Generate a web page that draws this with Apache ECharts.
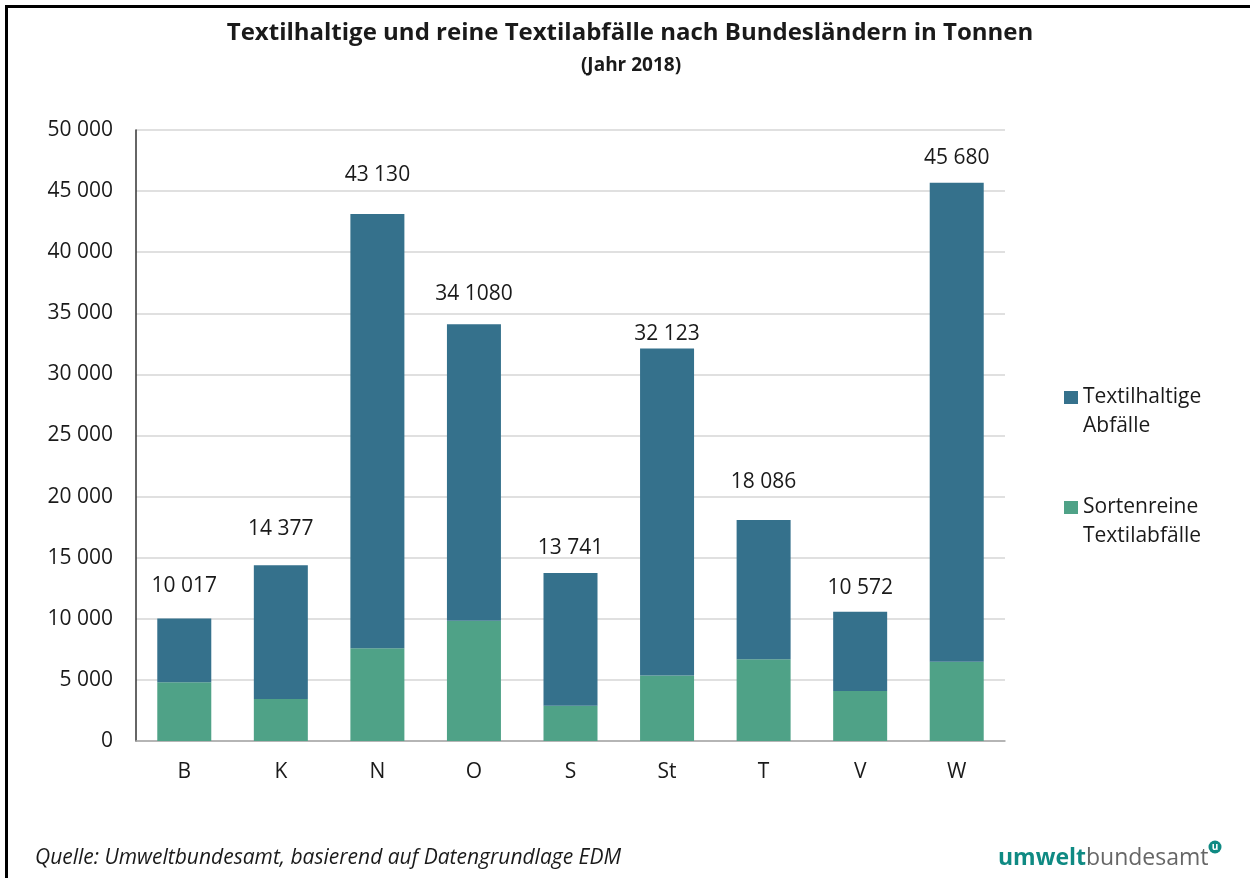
<!DOCTYPE html>
<html>
<head>
<meta charset="utf-8">
<script src="https://cdn.jsdelivr.net/npm/echarts@6/dist/echarts.min.js"></script>
<style>
html,body{margin:0;padding:0;background:#fff;}
#chart{width:1250px;height:878px;}
</style>
</head>
<body>
<div id="chart"></div>
<script>
const categories = ['B', 'K', 'N', 'O', 'S', 'St', 'T', 'V', 'W'];
const totals = [10017, 14377, 43130, 34108, 13741, 32123, 18086, 10572, 45680];
const sortenrein = [4810, 3440, 7600, 9840, 2890, 5350, 6700, 4100, 6480];
const totalLabels = ['10 017', '14 377', '43 130', '34 1080', '13 741', '32 123', '18 086', '10 572', '45 680'];
const textilhaltig = totals.map((t, i) => t - sortenrein[i]);
const seriesNames = ['Textilhaltige Abfälle', 'Sortenreine Textilabfälle'];
const legendLines = {
  'Textilhaltige Abfälle': ['Textilhaltige', 'Abfälle'],
  'Sortenreine Textilabfälle': ['Sortenreine', 'Textilabfälle']
};

// label placement (style only): gap in px between bar top and its total label
const labelDistances = [22, 26, 28, 20, 15, 4, 27, 13, 14];

const FONT = '"Open Sans", "Noto Sans", sans-serif';
const TXT = '#1a1a1a';
const FS = 21;
const chart = echarts.init(document.getElementById('chart'), null, {renderer: 'canvas'});
const fmt = v => String(v).replace(/\B(?=(\d{3})+(?!\d))/g, ' ');

chart.setOption({
  backgroundColor: '#ffffff',
  animation: false,
  textStyle: {fontFamily: FONT},
  grid: {left: 136, right: 245, top: 130, bottom: 137, containLabel: false},
  legend: {
    orient: 'vertical',
    left: 1064,
    top: 354,
    padding: 0,
    itemWidth: 14,
    itemHeight: 13,
    itemGap: 23,
    icon: 'rect',
    data: [seriesNames[0], seriesNames[1]],
    formatter: name => '{s| }\n{a|' + legendLines[name][0] + '}\n{a|' + legendLines[name][1] + '}',
    textStyle: {
      fontFamily: FONT, fontSize: FS, color: TXT,
      rich: {
        s: {fontSize: FS, lineHeight: 29, height: 29},
        a: {fontFamily: FONT, fontSize: FS, color: TXT, lineHeight: 29, height: 29}
      }
    }
  },
  xAxis: {
    type: 'category',
    data: categories,
    axisLine: {show: true, lineStyle: {color: '#a6a6a6', width: 1.5}},
    axisTick: {show: false},
    axisLabel: {fontFamily: FONT, fontSize: FS, color: TXT, margin: 21}
  },
  yAxis: {
    type: 'value',
    min: 0,
    max: 50000,
    interval: 5000,
    axisLine: {show: true, lineStyle: {color: '#333333', width: 1.5}},
    axisTick: {show: false},
    splitLine: {show: true, lineStyle: {color: '#d6d6d6', width: 1.5}},
    axisLabel: {fontFamily: FONT, fontSize: FS, color: TXT, margin: 23, formatter: fmt}
  },
  series: [
    {
      name: seriesNames[1],
      type: 'bar',
      stack: 'total',
      barWidth: 54,
      data: sortenrein,
      itemStyle: {color: '#4fa287'}
    },
    {
      name: seriesNames[0],
      type: 'bar',
      stack: 'total',
      barWidth: 54,
      data: textilhaltig.map((v, i) => ({value: v, label: {distance: labelDistances[i]}})),
      itemStyle: {color: '#35718c'},
      label: {
        show: true,
        position: 'top',
        distance: 28,
        fontFamily: FONT,
        fontSize: FS,
        color: TXT,
        formatter: p => totalLabels[p.dataIndex]
      }
    }
  ],
  graphic: [
    {type: 'rect', silent: true, shape: {x: 6.5, y: 6.5, width: 1400, height: 1000},
     style: {fill: null, stroke: '#000', lineWidth: 3}},
    {type: 'text', silent: true, x: 630, y: 33,
     style: {text: 'Textilhaltige und reine Textilabfälle nach Bundesländern in Tonnen',
       font: 'bold 24px ' + FONT, fill: TXT, align: 'center', verticalAlign: 'middle',
       textAlign: 'center', textVerticalAlign: 'middle'}},
    {type: 'text', silent: true, x: 631, y: 66,
     style: {text: '(Jahr 2018)', font: 'bold 19px ' + FONT, fill: TXT,
       align: 'center', verticalAlign: 'middle', textAlign: 'center', textVerticalAlign: 'middle'}},
    {type: 'text', silent: true, x: 35, y: 858,
     style: {text: 'Quelle: Umweltbundesamt, basierend auf Datengrundlage EDM',
       font: 'italic 21px ' + FONT, fill: TXT, align: 'left', verticalAlign: 'middle',
       textAlign: 'left', textVerticalAlign: 'middle'}},
    {type: 'text', silent: true, x: 998, y: 858,
     style: {text: '{a|umwelt}{b|bundesamt}', verticalAlign: 'middle', textVerticalAlign: 'middle',
       rich: {
         a: {fontFamily: FONT, fontWeight: 'bold', fontSize: 23, fill: '#0f8a83', color: '#0f8a83'},
         b: {fontFamily: FONT, fontWeight: 'normal', fontSize: 23, fill: '#666666', color: '#666666'}
       }}},
    {type: 'circle', silent: true, shape: {cx: 1215, cy: 847, r: 6.5},
     style: {fill: '#0f8a83'}},
    {type: 'text', silent: true, x: 1215, y: 847,
     style: {text: 'u', font: 'bold 10px ' + FONT, fill: '#fff', align: 'center', verticalAlign: 'middle',
       textAlign: 'center', textVerticalAlign: 'middle'}}
  ]
});
</script>
</body>
</html>
